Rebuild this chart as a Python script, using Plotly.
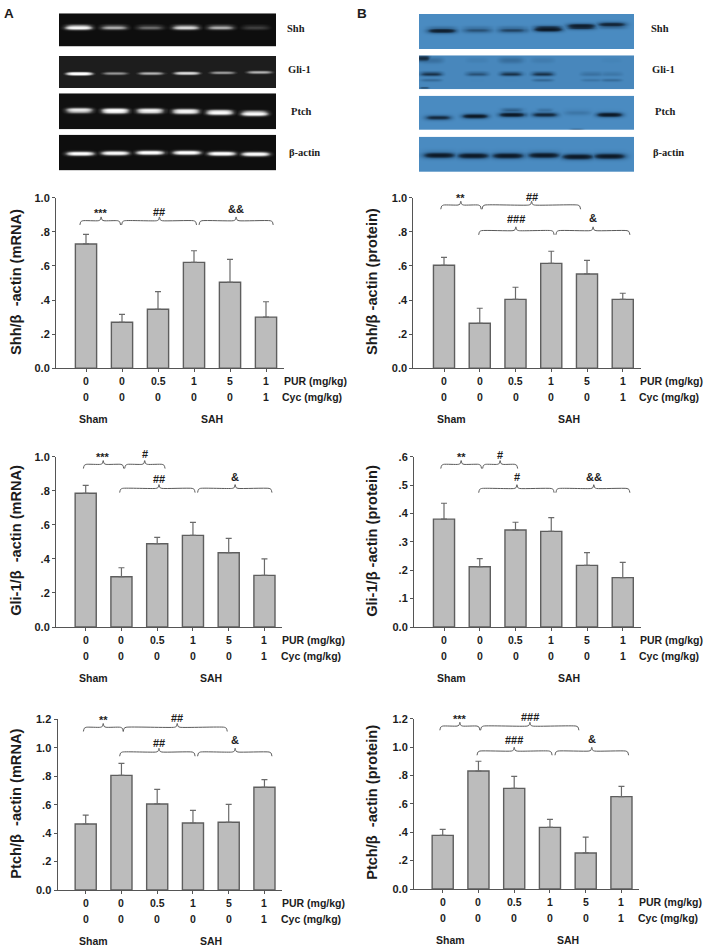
import numpy as np
import plotly.graph_objects as go

W, H = 708, 947
FONT = "Liberation Sans"
SERIF = "Liberation Serif"

# ---- data ----
pur = ["0", "0", "0.5", "1", "5", "1"]
cyc = ["0", "0", "0", "0", "0", "1"]

shh_mrna = [0.729, 0.270, 0.346, 0.621, 0.504, 0.300]
shh_mrna_top = [0.785, 0.316, 0.449, 0.689, 0.639, 0.390]
shh_prot = [0.604, 0.264, 0.404, 0.615, 0.553, 0.404]
shh_prot_top = [0.650, 0.352, 0.475, 0.686, 0.633, 0.440]
gli_mrna = [0.785, 0.295, 0.489, 0.538, 0.436, 0.303]
gli_mrna_top = [0.832, 0.348, 0.526, 0.614, 0.520, 0.400]
gli_prot = [0.380, 0.2125, 0.342, 0.337, 0.217, 0.174]
gli_prot_top = [0.436, 0.241, 0.369, 0.385, 0.262, 0.228]
ptch_mrna = [0.464, 0.806, 0.605, 0.471, 0.476, 0.722]
ptch_mrna_top = [0.527, 0.890, 0.708, 0.560, 0.602, 0.776]
ptch_prot = [0.378, 0.831, 0.709, 0.434, 0.254, 0.651]
ptch_prot_top = [0.420, 0.900, 0.794, 0.491, 0.366, 0.723]

ticks_10 = [0, 0.2, 0.4, 0.6, 0.8, 1.0]
ticktext_10 = ["0.0", ".2", ".4", ".6", ".8", "1.0"]
ticks_06 = [0, 0.1, 0.2, 0.3, 0.4, 0.5, 0.6]
ticktext_06 = ["0.0", ".1", ".2", ".3", ".4", ".5", ".6"]
ticks_12 = [0, 0.2, 0.4, 0.6, 0.8, 1.0, 1.2]
ticktext_12 = ["0.0", ".2", ".4", ".6", ".8", "1.0", "1.2"]

# brackets: x from, x to, tip x, y, label, label y
br_a1 = [(-0.17, 0.96, 0.42, .865, "***", .912), (0.99, 3.07, 2.04, .865, "##", .918), (3.14, 5.20, 4.17, .865, "&&", .935)]
br_b1 = [(-0.09, 1.04, 0.47, .957, "**", .996), (1.065, 3.82, 2.45, .957, "##", 1.002),
         (0.97, 3.08, 2.01, .807, "###", .875), (3.13, 5.20, 4.17, .807, "&", .879)]
br_a2 = [(-0.065, 1.065, 0.49, .955, "***", 1.0), (1.09, 2.22, 1.65, .955, "#", 1.014),
         (0.95, 3.06, 2.05, .814, "##", .867), (3.13, 5.21, 4.18, .814, "&", .883)]
br_b2 = [(-0.09, 1.05, 0.48, .573, "**", .600), (1.08, 2.06, 1.57, .573, "#", .606),
         (0.97, 3.08, 2.04, .488, "#", .527), (3.13, 5.20, 4.19, .488, "&&", .530)]
br_a3 = [(-0.065, 1.05, 0.49, 1.144, "**", 1.195), (1.05, 3.96, 2.56, 1.144, "##", 1.21),
         (0.95, 3.06, 2.05, .970, "##", 1.036), (3.13, 5.21, 4.18, .970, "&", 1.055)]
br_b3 = [(-0.08, 1.04, 0.48, 1.148, "***", 1.198), (1.06, 3.81, 2.44, 1.148, "###", 1.21),
         (0.96, 3.06, 2.00, .972, "###", 1.05), (3.14, 5.20, 4.17, .972, "&", 1.057)]

# blots: band strength per lane
gel_shh = [1.0, 0.62, 0.42, 0.80, 0.62, 0.28]
gel_gli = [1.0, 0.50, 0.58, 0.75, 0.52, 0.58]
gel_ptch = [0.85, 1.0, 0.9, 0.9, 0.95, 1.0]
gel_actin = [0.98, 0.98, 1.0, 1.0, 1.0, 1.0]
wb_shh = [0.90, 0.50, 0.58, 1.0, 0.92, 0.82]
wb_gli = [0.72, 0.52, 0.72, 0.72, 0.28, 0.22]
wb_ptch = [0.78, 1.0, 1.0, 0.82, 0.22, 1.0]
wb_actin = [0.98, 0.98, 0.98, 0.98, 0.98, 0.98]
wb_gli_low = [0.38, 0.06, 0.06, 0.40, 0.26, 0.36]
wb_gli_high = [0.30, 0.12, 0.32, 0.16, 0.02, 0.08]

# ---- layout helpers ----
fig = go.Figure()
layout = dict()
n_ax = [0]


def new_axes(x0, x1, ytop, ybot):
    n_ax[0] += 1
    i = n_ax[0]
    sx = "" if i == 1 else str(i)
    return (f"x{sx}", f"y{sx}", f"xaxis{sx}", f"yaxis{sx}",
            [x0 / W, x1 / W], [1 - ybot / H, 1 - ytop / H])


annos = []


def text(x, y, s, size=10.5, xref="paper", yref="paper", anchor="center", angle=0, family=FONT, bold=True):
    annos.append(dict(x=x / W if xref == "paper" else x,
                      y=1 - y / H if yref == "paper" else y,
                      xref=xref, yref=yref, text=f"<b>{s}</b>" if bold else s,
                      showarrow=False, xanchor=anchor, yanchor="middle", textangle=angle,
                      font=dict(family=family, size=size, color="#1c1c1c")))


def panel(values, tops, brackets, ticks, ticktext, ymax, ylabel, axis_x, ytop, ybot, c0, step, title_x):
    xr, yr, xa, ya, dx, dy = new_axes(axis_x, c0 + 5.5 * step, ytop, ybot)
    xrange = [(axis_x - c0) / step, 5.5]
    err = [t - v for t, v in zip(tops, values)]
    xs = list(range(6))
    fig.add_trace(go.Bar(x=xs, y=values, xaxis=xr, yaxis=yr, width=0.59,
                         marker=dict(color="#bcbcbc", line=dict(color="#5e5e5e", width=1.4)),
                         error_y=dict(type="data", symmetric=False, array=err, arrayminus=[0] * 6,
                                      color="#6a6a6a", thickness=1.2, width=3),
                         showlegend=False, hoverinfo="skip"))
    px_per_y = (ybot - ytop) / ymax
    d = 4.2 / px_per_y
    e = 0.05
    for (a, b, tip, y, lab, ly) in brackets:
        bx = [a, a + e * .5, a + e * 1.6, tip - e * 1.6, tip - e * .5, tip, tip + e * .5, tip + e * 1.6, b - e * 1.6, b - e * .5, b]
        by = [y - d, y - d * .25, y, y, y + d * .2, y + d * .9, y + d * .2, y, y, y - d * .25, y - d]
        fig.add_trace(go.Scatter(x=bx, y=by, xaxis=xr, yaxis=yr, mode="lines", cliponaxis=False,
                                 line=dict(color="#5a5a5a", width=1, shape="spline", smoothing=0.6),
                                 showlegend=False, hoverinfo="skip"))
        text(tip, ly / ymax, lab, size=11, xref=xr, yref=f"{yr} domain")
    layout[xa] = dict(domain=dx, range=xrange, anchor=yr, tickmode="array", tickvals=xs, ticktext=[""] * 6,
                      ticks="outside", ticklen=3, tickcolor="#555", tickwidth=1, showgrid=False, zeroline=False,
                      showline=True, linecolor="#555", linewidth=1, automargin=False)
    layout[ya] = dict(domain=dy, range=[0, ymax], anchor=xr, tickmode="array", tickvals=ticks,
                      ticktext=[f"<b>{t}</b>" for t in ticktext],
                      ticks="outside", ticklen=3, tickcolor="#555", tickwidth=1, showgrid=False, zeroline=False,
                      showline=True, linecolor="#555", linewidth=1, automargin=False,
                      tickfont=dict(family=FONT, size=11, color="#1c1c1c"))
    for i in range(6):
        text(i, ybot + 13, f"{pur[i]}", xref=xr)
        text(i, ybot + 29, f"{cyc[i]}", xref=xr)
    text(5.44, ybot + 13, "PUR (mg/kg)", xref=xr, anchor="left")
    text(5.40, ybot + 29, "Cyc (mg/kg)", xref=xr, anchor="left")
    text(0.22, ybot + 51, "Sham", xref=xr)
    text(3.5, ybot + 51, "SAH", xref=xr)
    fig.add_trace(go.Scatter(x=[0.9, 5.2], y=[-37.4 / px_per_y] * 2, xaxis=xr, yaxis=yr, mode="lines", cliponaxis=False,
                             line=dict(color="#555", width=1), showlegend=False, hoverinfo="skip"))
    text(title_x, (ytop + ybot) / 2 - 1, ylabel, size=14.6, angle=-90)


def blot(x0, x1, ytop, ybot, strengths, centers, ypos, width, sigma, colors, base=0.0, extras=()):
    """Heatmap image of a blot; strengths per lane, drawn on the lane axis."""
    xr, yr, xa, ya, dx, dy = new_axes(x0, x1, ytop, ybot)
    nx, ny = int(x1 - x0), int(ybot - ytop)
    xs = np.linspace(x0, x1, nx)
    ys = np.linspace(ytop, ybot, ny)
    z = np.full((ny, nx), base, dtype=float)
    for s, c, yc in zip(strengths, centers, ypos):
        wx = np.exp(-np.abs((xs - c) / width) ** 4)
        z = np.maximum(z, s * np.outer(np.exp(-((ys - yc) / sigma) ** 2), wx))
    for (st, cs, yc, w, sg) in extras:
        for s, c in zip(st, cs):
            wx = np.exp(-np.abs((xs - c) / w) ** 4)
            z = np.maximum(z, s * np.outer(np.exp(-((ys - yc) / sg) ** 2), wx))
    fig.add_trace(go.Heatmap(z=z, x=xs, y=ys, xaxis=xr, yaxis=yr, zmin=0, zmax=1, showscale=False,
                             colorscale=colors, hoverinfo="skip", zsmooth="best"))
    layout[xa] = dict(domain=dx, range=[x0, x1], visible=False, anchor=yr, automargin=False)
    layout[ya] = dict(domain=dy, range=[ybot, ytop], visible=False, anchor=xr, automargin=False)


GEL = [[0, "#0a0a0a"], [0.25, "#3a3a3a"], [0.6, "#b8b8b8"], [0.9, "#ffffff"], [1, "#ffffff"]]
WB = [[0, "#4a8bc1"], [0.35, "#356a98"], [0.7, "#182f45"], [1, "#0b1622"]]

lanes_a = [78.3, 114, 150, 185, 220, 255]
blot(59, 276, 13.3, 46.7, gel_shh, lanes_a, [27] * 6, 14, 2.1, GEL, 0.02)
blot(59, 276, 56, 88.3, gel_gli, [79, 115, 151, 186, 222, 259], [73, 72.7, 72.7, 72.5, 72, 71.5], 14, 2.0, GEL, 0.1)
blot(59, 276, 93.3, 129.3, gel_ptch, [79, 115, 150, 185, 219, 254], [110, 110.5, 110.5, 111, 112, 113], 14, 2.3, GEL, 0.03)
blot(59, 276, 134.7, 170.3, gel_actin, [80, 115, 150, 186, 221, 255], [153, 152.5, 152, 152, 153, 153.5], 14.5, 2.3, GEL, 0.02)

lanes_b = [441.7, 477.3, 512.3, 547.3, 580.7, 611.3]
blot(419, 634, 14, 49.3, wb_shh, lanes_b, [30, 29.5, 29.5, 28.5, 26, 24.5], 15, 2.7, WB)
blot(419, 634, 55.3, 89.3, wb_gli, [431, 477, 511, 542, 591, 611], [73.5] * 6, 12, 1.9, WB, 0.04,
     extras=[(wb_gli_low, [431, 477, 511, 542, 591, 611], 79.5, 11, 1.5),
             (wb_gli_high, [431, 477, 511, 542, 591, 611], 60, 13, 3.5),
             ([0.75, 0.55], [423, 424], 58, 7, 3.5),
             ([0.6], [424], 87.5, 5, 1.0)])
blot(419, 634, 95.7, 130, wb_ptch, [438, 475, 512, 544, 577, 609], [117, 115.5, 114, 114, 112, 114], 13.5, 2.5, WB,
     extras=[([0.6], [576], 129.5, 7, 0.9), ([0.45], [512], 109.5, 11, 1.5), ([0.3], [544], 109.5, 8, 1.2)])
blot(419, 634, 136.7, 172, wb_actin, [439, 473, 508, 543, 577, 609], [154.5, 155, 155, 154.5, 156, 155.5], 16.5, 3.1, WB)

for x, y, s in [(296, 29, "Shh"), (299, 69, "Gli-1"), (301, 112, "Ptch"), (304, 152, "β-actin"),
                (660, 29, "Shh"), (663, 69, "Gli-1"), (665, 112, "Ptch"), (668, 152, "β-actin")]:
    text(x, y, s, size=10.5, family=SERIF)
text(9, 13, "A", size=13.5)
text(362, 13, "B", size=13.5)

panel(shh_mrna, shh_mrna_top, br_a1, ticks_10, ticktext_10, 1.0, "Shh/β  -actin (mRNA)", 56, 197.7, 368.3, 86, 36, 16)
panel(shh_prot, shh_prot_top, br_b1, ticks_10, ticktext_10, 1.0, "Shh/β -actin (protein)", 413.3, 197.7, 368.3, 444, 35.75, 372)
panel(gli_mrna, gli_mrna_top, br_a2, ticks_10, ticktext_10, 1.0, "Gli-1/β  -actin (mRNA)", 56, 456.7, 627, 85.7, 35.75, 16)
panel(gli_prot, gli_prot_top, br_b2, ticks_06, ticktext_06, 0.6, "Gli-1/β -actin (protein)", 414, 456.7, 627, 444, 35.75, 372)
panel(ptch_mrna, ptch_mrna_top, br_a3, ticks_12, ticktext_12, 1.2, "Ptch/β  -actin (mRNA)", 57.5, 719.3, 890, 85.7, 35.75, 16)
panel(ptch_prot, ptch_prot_top, br_b3, ticks_12, ticktext_12, 1.2, "Ptch/β  -actin (protein)", 414, 718.7, 889, 442.7, 35.75, 372)

fig.update_layout(width=W, height=H, autosize=False, margin=dict(l=0, r=0, t=0, b=0),
                  paper_bgcolor="white", plot_bgcolor="rgba(0,0,0,0)", showlegend=False,
                  annotations=annos, barmode="overlay", **layout)
fig.write_html("out.html", config={"displayModeBar": False},
               post_script="document.body.style.margin='0';document.body.style.overflow='hidden';")
